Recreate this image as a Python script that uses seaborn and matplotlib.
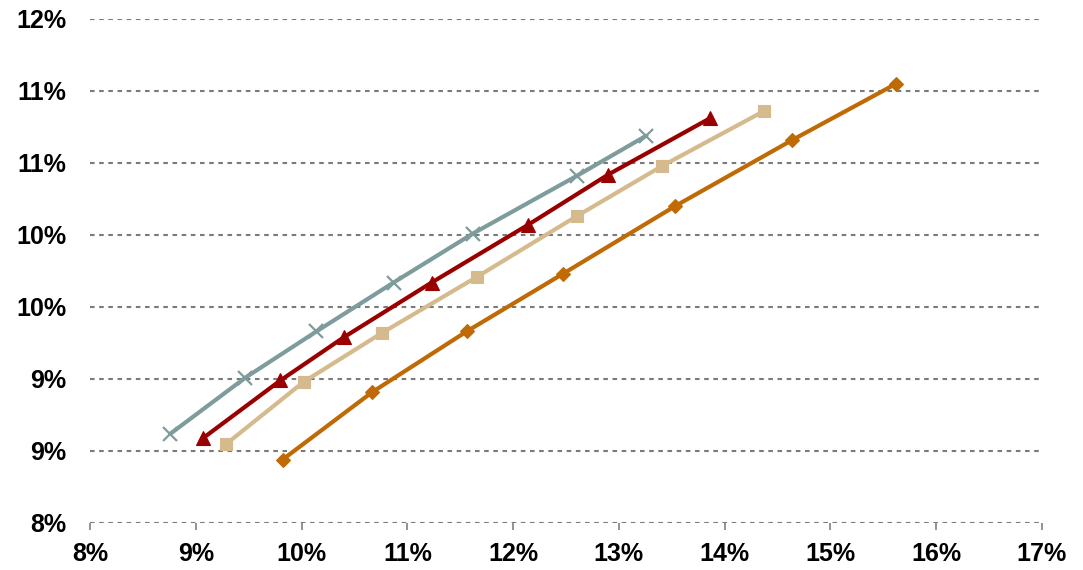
import numpy as np
import pandas as pd
import matplotlib
matplotlib.use("Agg")
import matplotlib.pyplot as plt
import seaborn as sns

# Risk (x, %) vs. return (y, %) frontiers, one per series
series_names = ["Series 1", "Series 2", "Series 3", "Series 4"]

x_s1 = [8.76, 9.47, 10.14, 10.87, 11.62, 12.60, 13.26]
y_s1 = [8.62, 9.01, 9.33, 9.67, 10.01, 10.41, 10.69]

x_s2 = [9.07, 9.80, 10.40, 11.23, 12.14, 12.90, 13.86]
y_s2 = [8.59, 8.99, 9.29, 9.67, 10.07, 10.42, 10.81]

x_s3 = [9.29, 10.02, 10.76, 11.66, 12.60, 13.41, 14.37]
y_s3 = [8.55, 8.98, 9.32, 9.71, 10.13, 10.48, 10.86]

x_s4 = [9.82, 10.67, 11.56, 12.47, 13.53, 14.64, 15.62]
y_s4 = [8.44, 8.91, 9.33, 9.73, 10.20, 10.66, 11.05]

x_ticks = [8, 9, 10, 11, 12, 13, 14, 15, 16, 17]
x_tick_labels = ["8%", "9%", "10%", "11%", "12%", "13%", "14%", "15%", "16%", "17%"]
y_ticks = [8.0, 8.5, 9.0, 9.5, 10.0, 10.5, 11.0, 11.5]
y_tick_labels = ["8%", "9%", "9%", "10%", "10%", "11%", "11%", "12%"]

colors = ["#7F9C9C", "#990000", "#D4BA8C", "#BF6A05"]
markers = ["x", "^", "s", "D"]
marker_sizes = [10, 10, 8, 7]

frames = []
for name, xs, ys in zip(series_names,
                        [x_s1, x_s2, x_s3, x_s4],
                        [y_s1, y_s2, y_s3, y_s4]):
    frames.append(pd.DataFrame({"risk": xs, "ret": ys, "series": name}))
df = pd.concat(frames, ignore_index=True)

sns.set_theme(style="white")
plt.rcParams["font.family"] = ["Liberation Sans", "DejaVu Sans"]

fig = plt.figure(figsize=(10.83, 5.70), dpi=100)
ax = fig.add_axes([90 / 1083, 1 - 523 / 570, 952 / 1083, 504 / 570])

for name, col, mk, ms in zip(series_names, colors, markers, marker_sizes):
    sub = df[df["series"] == name]
    sns.lineplot(data=sub, x="risk", y="ret", ax=ax, sort=False,
                 color=col, linewidth=3.0, marker=mk, markersize=ms,
                 markeredgecolor=col, markerfacecolor=col,
                 markeredgewidth=1.6 if mk == "x" else 0.8,
                 legend=False, zorder=3, clip_on=False)

ax.set_xlim(8, 17)
ax.set_ylim(8.0, 11.5)
ax.set_xticks(x_ticks)
ax.set_xticklabels(x_tick_labels)
ax.set_yticks(y_ticks)
ax.set_yticklabels(y_tick_labels)
ax.set_xlabel("")
ax.set_ylabel("")

# dotted horizontal gridlines
for yv in y_ticks:
    ax.axhline(yv, color="#7A7A7A", linewidth=1.5, linestyle=(0, (2.2, 2.2)),
               zorder=1)

for side in ["top", "right", "left", "bottom"]:
    ax.spines[side].set_visible(False)

ax.tick_params(axis="y", length=0, pad=17, labelsize=18)
ax.tick_params(axis="x", length=5, width=1.2, color="#808080", pad=9,
               labelsize=18, direction="out", bottom=True)
for lbl in ax.get_yticklabels() + ax.get_xticklabels():
    lbl.set_fontweight("bold")
    lbl.set_color("black")

fig.savefig("out.png", dpi=100, facecolor="white")
